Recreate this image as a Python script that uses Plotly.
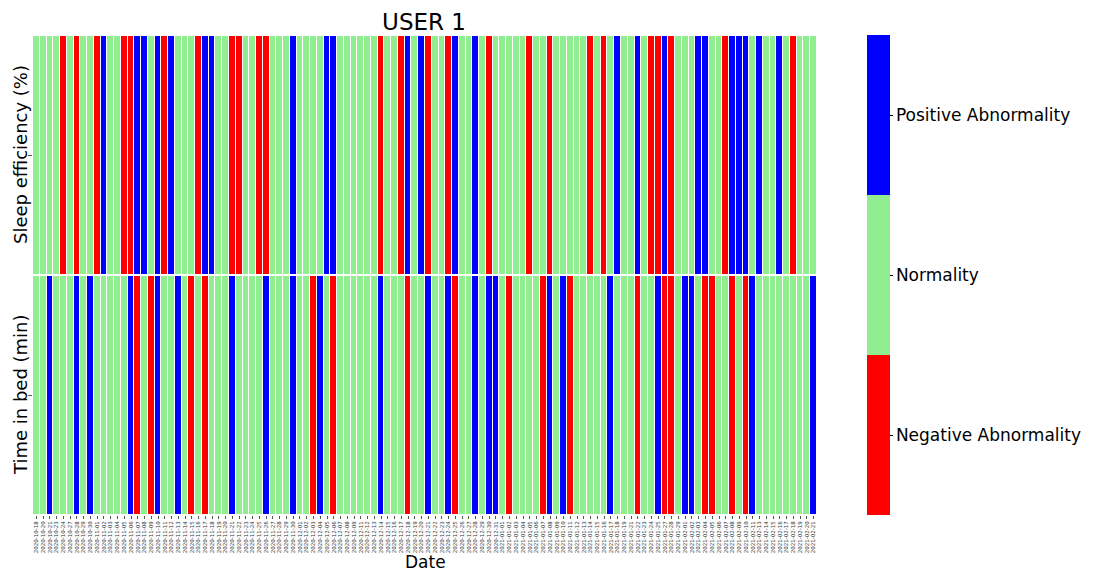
import plotly.graph_objects as go

dates = [
    "2020-10-18", "2020-10-20", "2020-10-21", "2020-10-23", "2020-10-24", "2020-10-27", "2020-10-28", "2020-10-29", "2020-10-30",
    "2020-11-01", "2020-11-02", "2020-11-03", "2020-11-04", "2020-11-05", "2020-11-06", "2020-11-07", "2020-11-08", "2020-11-09",
    "2020-11-10", "2020-11-11", "2020-11-12", "2020-11-13", "2020-11-14", "2020-11-15", "2020-11-16", "2020-11-17", "2020-11-18",
    "2020-11-19", "2020-11-20", "2020-11-21", "2020-11-22", "2020-11-23", "2020-11-24", "2020-11-25", "2020-11-26", "2020-11-27",
    "2020-11-28", "2020-11-29", "2020-11-30",
    "2020-12-01", "2020-12-02", "2020-12-03", "2020-12-04", "2020-12-05", "2020-12-06", "2020-12-07", "2020-12-08", "2020-12-09",
    "2020-12-11", "2020-12-12", "2020-12-13", "2020-12-14", "2020-12-15", "2020-12-16", "2020-12-17", "2020-12-18", "2020-12-19",
    "2020-12-20", "2020-12-21", "2020-12-22", "2020-12-23", "2020-12-24", "2020-12-25", "2020-12-26", "2020-12-27", "2020-12-28",
    "2020-12-29", "2020-12-30", "2020-12-31",
    "2021-01-01", "2021-01-02", "2021-01-03", "2021-01-04", "2021-01-05", "2021-01-06", "2021-01-07", "2021-01-08", "2021-01-09",
    "2021-01-10", "2021-01-11", "2021-01-12", "2021-01-13", "2021-01-14", "2021-01-15", "2021-01-16", "2021-01-17", "2021-01-18",
    "2021-01-19", "2021-01-21", "2021-01-22", "2021-01-23", "2021-01-24", "2021-01-25", "2021-01-27", "2021-01-28", "2021-01-29",
    "2021-02-01", "2021-02-02", "2021-02-03", "2021-02-04", "2021-02-05", "2021-02-06", "2021-02-07", "2021-02-08", "2021-02-09",
    "2021-02-10", "2021-02-11", "2021-02-13", "2021-02-14", "2021-02-15", "2021-02-16", "2021-02-17", "2021-02-18", "2021-02-19",
    "2021-02-20", "2021-02-21",
]

metrics = ["Sleep efficiency (%)", "Time in bed (min)"]

# -1 = Negative Abnormality, 0 = Normality, 1 = Positive Abnormality
sleep_efficiency = [
    0, 0, 0, 0, -1, 0, -1, 0, 0, -1,
    1, 0, 0, -1, -1, 1, 1, 0, 1, -1,
    1, 0, 0, 0, -1, 1, 1, 0, 0, -1,
    -1, 0, 0, -1, -1, 0, 0, 0, 1, 0,
    0, 0, 0, 1, 1, 0, 0, 0, 0, 0,
    0, -1, 0, 0, -1, 1, 0, 1, -1, 0,
    0, -1, 1, 0, 0, 1, 0, -1, 0, 0,
    0, 0, 0, -1, 0, 0, -1, 0, 0, 0,
    0, 0, -1, 0, -1, 0, 1, 0, 0, 1,
    0, -1, -1, 1, -1, 0, 0, 0, 1, 1,
    0, 0, -1, 1, 1, 1, 0, 1, 0, 0,
    1, 0, -1, 0, 0, 0,
]

time_in_bed = [
    0, 0, 1, 0, 0, 0, 1, 0, 1, 0,
    0, 0, 0, 0, 1, -1, 0, -1, 1, 0,
    0, 1, 0, -1, 0, -1, 0, 0, 0, 1,
    0, 0, 0, 0, 1, 0, 0, 0, 1, 0,
    0, -1, 1, 0, -1, 0, 0, 0, 0, 0,
    0, 1, 0, 0, 0, -1, 0, 0, 1, 0,
    0, 1, -1, 0, 0, 1, 0, 1, 1, 0,
    -1, 0, 0, 0, 0, -1, 1, 0, 1, -1,
    0, 0, 0, 0, 0, 1, 0, 0, 0, -1,
    0, 0, 1, -1, -1, 0, 1, 1, 0, -1,
    -1, 0, 0, -1, 0, -1, 1, 0, 0, 0,
    0, 0, 0, 0, 0, 1,
]

class_labels = ["Negative Abnormality", "Normality", "Positive Abnormality"]
class_values = [-2 / 3, 0, 2 / 3]

RED, GREEN, BLUE = "#ff0000", "#90ee90", "#0000ff"
colorscale = [
    [0.0, RED], [1 / 3, RED],
    [1 / 3, GREEN], [2 / 3, GREEN],
    [2 / 3, BLUE], [1.0, BLUE],
]

# the page body has an 8px default margin, so the figure is 8px smaller
W, H = 1086, 563

fig = go.Figure(
    go.Heatmap(
        z=[sleep_efficiency, time_in_bed],
        x=dates,
        y=metrics,
        zmin=-1,
        zmax=1,
        colorscale=colorscale,
        xgap=1,
        ygap=2,
        colorbar=dict(
            x=(867 - 33) / 784,
            xanchor="left",
            y=0.5,
            yanchor="middle",
            len=1,
            lenmode="fraction",
            thickness=23,
            outlinewidth=0,
            xpad=0,
            ypad=0,
            tickmode="array",
            tickvals=class_values,
            ticktext=class_labels,
            ticks="outside",
            ticklen=3,
            tickcolor="#000",
            tickfont=dict(size=17, color="#000", family="DejaVu Sans"),
        ),
    )
)

# row labels drawn rotated, left of the heatmap
row_label_annotations = [
    dict(
        text=name,
        x=-13 / 784,
        xref="paper",
        y=name,
        yref="y",
        xanchor="center",
        yanchor="middle",
        textangle=-90,
        showarrow=False,
        font=dict(size=18, color="#000"),
    )
    for name in metrics
]

fig.update_layout(
    width=W,
    height=H,
    margin=dict(l=25, r=277, t=27, b=56, autoexpand=False),
    paper_bgcolor="white",
    plot_bgcolor="white",
    font=dict(family="DejaVu Sans", color="#000"),
    title=dict(
        text="USER 1",
        x=416 / W,
        xanchor="center",
        xref="container",
        y=1 - 14 / H,
        yref="container",
        yanchor="middle",
        font=dict(size=23, color="#000"),
    ),
    xaxis=dict(
        type="category",
        automargin=False,
        tickmode="array",
        tickvals=dates,
        ticktext=dates,
        tickangle=-90,
        tickfont=dict(size=5.5, color="#333"),
        ticks="outside",
        ticklen=3,
        tickcolor="#555",
        showgrid=False,
        zeroline=False,
        showline=False,
    ),
    yaxis=dict(
        type="category",
        automargin=False,
        autorange="reversed",
        showticklabels=False,
        ticks="outside",
        ticklen=4,
        tickcolor="#555",
        showgrid=False,
        zeroline=False,
        showline=False,
    ),
    annotations=row_label_annotations + [
        dict(
            text="Date",
            x=0.5,
            xref="paper",
            y=-(562 - 515) / 480,
            yref="paper",
            xanchor="center",
            yanchor="middle",
            showarrow=False,
            font=dict(size=17, color="#000"),
        )
    ],
)

fig.write_html("out.html")
